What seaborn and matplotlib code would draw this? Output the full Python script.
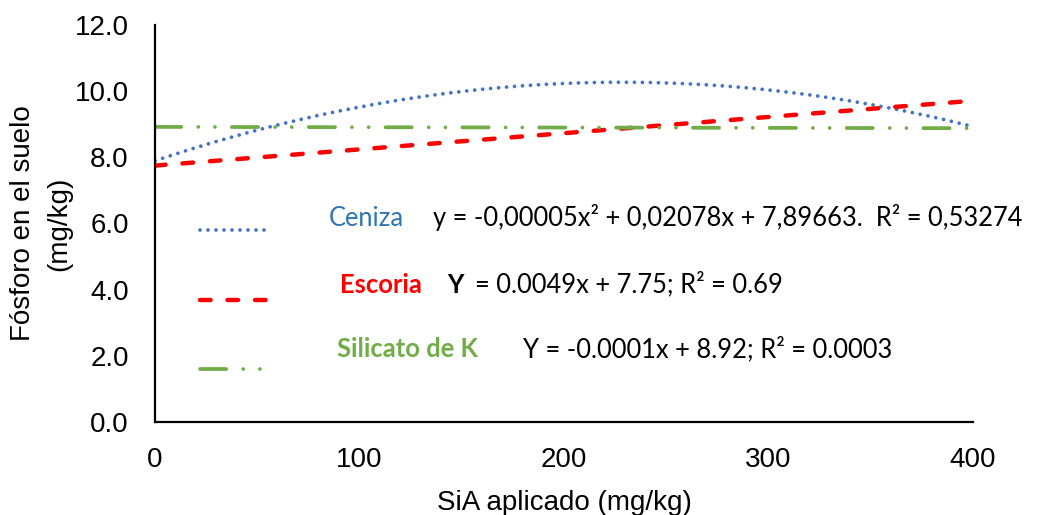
import numpy as np
import pandas as pd
import matplotlib
matplotlib.use("Agg")
import matplotlib.pyplot as plt
import seaborn as sns

# Trend line coefficients, highest power first
ceniza_coef = [-0.0000455, 0.02078, 7.89663]
escoria_coef = [0.0049, 7.75]
silicato_coef = [-0.0001, 8.92]

series_names = ["Ceniza", "Escoria", "Silicato de K"]
series_colors = ["#4472C4", "#FF0000", "#70AD47"]
name_colors = ["#2E75B6", "#FF0000", "#70AD47"]

x_range = [0, 400]
x_ticks = [0, 100, 200, 300, 400]
y_ticks = [0.0, 2.0, 4.0, 6.0, 8.0, 10.0, 12.0]

sns.set_theme(style="white")
plt.rcParams["font.family"] = ["Liberation Sans", "DejaVu Sans"]
plt.rcParams["lines.scale_dashes"] = False

fig = plt.figure(figsize=(10.42, 5.15), dpi=100)
ax = fig.add_axes([0.1488, 0.1806, 0.785, 0.7709])

x = np.linspace(x_range[0], x_range[1], 401)
frames = []
for name, coef in zip(series_names, [ceniza_coef, escoria_coef, silicato_coef]):
    frames.append(pd.DataFrame({"x": x, "y": np.polyval(coef, x), "serie": name}))
df = pd.concat(frames, ignore_index=True)

styles = {
    "Ceniza": dict(linewidth=2.7, linestyle=(0, (0.01, 5.75)), dash_capstyle="round"),
    "Escoria": dict(linewidth=3.2, linestyle=(0, (7.6, 12.2)), dash_capstyle="round"),
    "Silicato de K": dict(linewidth=2.7, linestyle=(0, (18.9, 12.2, 0.01, 12.0, 0.01, 12.2)),
                          dash_capstyle="round"),
}

handles = []
for name, color in zip(series_names, series_colors):
    sub = df[df["serie"] == name]
    sns.lineplot(data=sub, x="x", y="y", color=color, ax=ax, legend=False,
                 **styles[name])
    handles.append(ax.get_lines()[-1])

ax.set_xlim(x_range)
ax.set_ylim(0, 12)
ax.set_xticks(x_ticks)
ax.set_yticks(y_ticks)
ax.set_yticklabels([f"{v:.1f}" for v in y_ticks])
ax.tick_params(axis="both", length=0, labelsize=20, colors="black")
ax.tick_params(axis="y", pad=19)
ax.tick_params(axis="x", pad=18)

for side in ["top", "right"]:
    ax.spines[side].set_visible(False)
for side in ["left", "bottom"]:
    ax.spines[side].set_color("black")
    ax.spines[side].set_linewidth(1.6)

ax.set_xlabel("SiA aplicado (mg/kg)", fontsize=20, color="black", labelpad=12)
ax.set_ylabel("Fósforo en el suelo\n(mg/kg)", fontsize=20, color="black",
              labelpad=2, linespacing=1.5)

# Line keys, stacked on the left
ax.legend(handles, ["", "", ""], loc="center left", bbox_to_anchor=(0.055, 0.3057),
          frameon=False, fontsize=10, handlelength=5.2, handletextpad=0,
          borderpad=0, borderaxespad=0, labelspacing=4.0)

# Series names and fitted equations
eq_font = ["Lato", "DejaVu Sans"]
fs = 18.4
ax.text(0.2127, 0.4926, "Ceniza", transform=ax.transAxes, fontsize=fs,
        color=name_colors[0], family=eq_font, va="baseline")
ax.text(0.340, 0.4926, "y = -0,00005x² + 0,02078x + 7,89663.  R² = 0,53274",
        transform=ax.transAxes, fontsize=fs, color="black", family=eq_font, va="baseline")

ax.text(0.226, 0.3258, "Escoria", transform=ax.transAxes, fontsize=fs,
        color=name_colors[1], family=eq_font, weight="bold", va="baseline")
ax.text(0.357, 0.3258, "Y", transform=ax.transAxes, fontsize=fs,
        color="black", family=eq_font, weight="bold", va="baseline")
ax.text(0.391, 0.3258, "= 0.0049x + 7.75; R² = 0.69", transform=ax.transAxes,
        fontsize=fs, color="black", family=eq_font, va="baseline")

ax.text(0.2225, 0.163, "Silicato de K", transform=ax.transAxes, fontsize=fs,
        color=name_colors[2], family=eq_font, weight="bold", va="baseline")
ax.text(0.450, 0.163, "Y = -0.0001x + 8.92; R² = 0.0003", transform=ax.transAxes,
        fontsize=fs, color="black", family=eq_font, va="baseline")

fig.savefig("out.png", dpi=100)
